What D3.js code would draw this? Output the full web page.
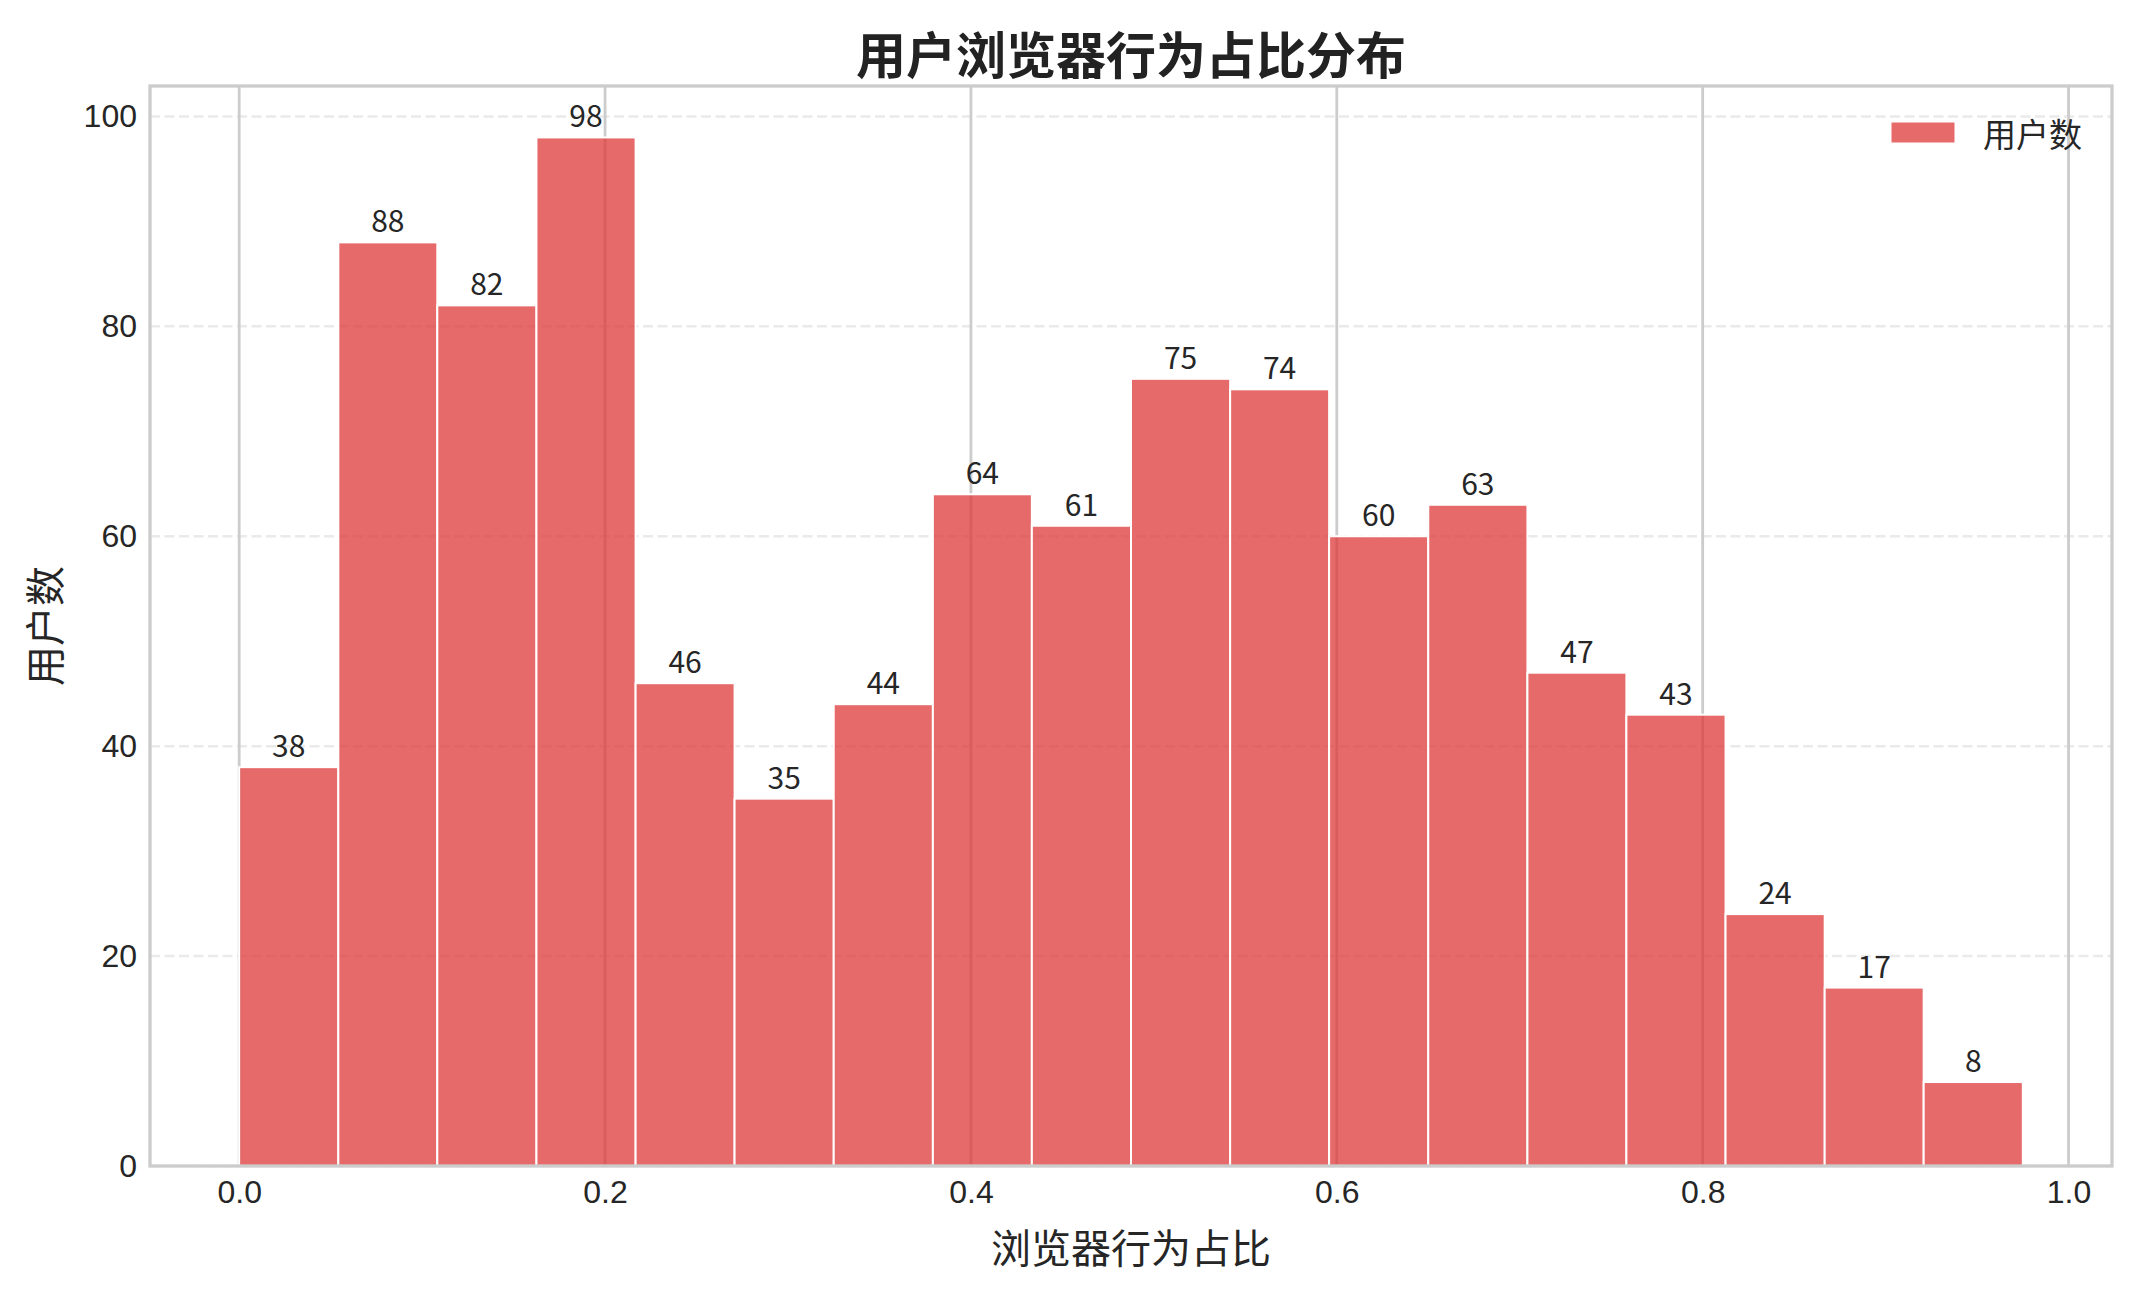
<!DOCTYPE html>
<html lang="zh">
  <head>
    <meta charset="UTF-8" />
    <title>用户浏览器行为占比分布</title>
    <style>
      body {
        margin: 0;
        background-color: #fff;
      }

      svg {
        display: block;
        font-family: "Noto Sans CJK SC", "Noto Sans", sans-serif;
      }

      .axis text {
        fill: #262626;
        font-size: 32px;
      }

      .bar {
        fill: #de3838;
        fill-opacity: 0.75;
        stroke: #fff;
        stroke-width: 2px;
      }
    </style>
  </head>
  <body>
    <svg id="chart"></svg>

    <script src="https://d3js.org/d3.v7.min.js"></script>
    <script>
      const width = 2135;
      const height = 1294;

      // histogram bins (edges) and counts
      const binEdges = [
        0, 0.0542, 0.1083, 0.1625, 0.2167, 0.2708, 0.325, 0.3792, 0.4333,
        0.4875, 0.5417, 0.5958, 0.65, 0.7042, 0.7583, 0.8125, 0.8667, 0.9208,
        0.975,
      ];
      const counts = [
        38, 88, 82, 98, 46, 35, 44, 64, 61, 75, 74, 60, 63, 47, 43, 24, 17, 8,
      ];
      const xTicks = [0, 0.2, 0.4, 0.6, 0.8, 1.0];
      const yTicks = [0, 20, 40, 60, 80, 100];

      const titleText = "用户浏览器行为占比分布";
      const xLabel = "浏览器行为占比";
      const yLabel = "用户数";
      const legendLabel = "用户数";

      const margin = { top: 86, right: 23, bottom: 128, left: 150 };
      const plotW = width - margin.left - margin.right;
      const plotH = height - margin.top - margin.bottom;

      const bins = counts.map((c, i) => ({
        x0: binEdges[i],
        x1: binEdges[i + 1],
        count: c,
      }));

      const xMin = binEdges[0];
      const xMax = binEdges[binEdges.length - 1];
      const pad = (xMax - xMin) * 0.05;

      const x = d3
        .scaleLinear()
        .domain([xMin - pad, xMax + pad])
        .range([0, plotW]);
      const y = d3
        .scaleLinear()
        .domain([0, d3.max(counts) * 1.05])
        .range([plotH, 0]);

      const svg = d3
        .select("#chart")
        .attr("width", width)
        .attr("height", height)
        .attr("viewBox", `0 0 ${width} ${height}`);

      const g = svg
        .append("g")
        .attr("transform", `translate(${margin.left},${margin.top})`);

      // grid: solid vertical, dashed horizontal
      g.append("g")
        .selectAll("line")
        .data(yTicks)
        .join("line")
        .attr("x1", 0)
        .attr("x2", plotW)
        .attr("y1", (d) => y(d))
        .attr("y2", (d) => y(d))
        .attr("stroke", "#eaeaea")
        .attr("stroke-width", 2.5)
        .attr("stroke-dasharray", "10,4.5");

      g.append("g")
        .selectAll("line")
        .data(xTicks)
        .join("line")
        .attr("x1", (d) => x(d))
        .attr("x2", (d) => x(d))
        .attr("y1", 0)
        .attr("y2", plotH)
        .attr("stroke", "#cccccc")
        .attr("stroke-width", 2.8);

      g.append("g")
        .selectAll("rect")
        .data(bins)
        .join("rect")
        .attr("class", "bar")
        .attr("x", (d) => x(d.x0))
        .attr("y", (d) => y(d.count))
        .attr("width", (d) => x(d.x1) - x(d.x0))
        .attr("height", (d) => plotH - y(d.count));

      g.append("g")
        .selectAll("text")
        .data(bins)
        .join("text")
        .attr("x", (d) => x((d.x0 + d.x1) / 2))
        .attr("y", (d) => y(d.count) - 10)
        .attr("text-anchor", "middle")
        .attr("fill", "#262626")
        .style("font-size", "30px")
        .text((d) => d.count);

      // spines
      g.append("rect")
        .attr("width", plotW)
        .attr("height", plotH)
        .attr("fill", "none")
        .attr("stroke", "#cccccc")
        .attr("stroke-width", 3.3);

      const xAxis = g
        .append("g")
        .attr("class", "axis")
        .attr("transform", `translate(0,${plotH})`)
        .call(
          d3
            .axisBottom(x)
            .tickValues(xTicks)
            .tickFormat(d3.format(".1f"))
            .tickSize(0)
            .tickPadding(14)
        );
      xAxis.select(".domain").remove();

      const yAxis = g
        .append("g")
        .attr("class", "axis")
        .call(d3.axisLeft(y).tickValues(yTicks).tickSize(0).tickPadding(13));
      yAxis.select(".domain").remove();

      svg
        .append("text")
        .attr("x", margin.left + plotW / 2)
        .attr("y", 52)
        .attr("text-anchor", "middle")
        .attr("dominant-baseline", "central")
        .attr("fill", "#222")
        .style("font-size", "50px")
        .style("font-weight", "bold")
        .text(titleText);

      svg
        .append("text")
        .attr("x", margin.left + plotW / 2)
        .attr("y", 1246)
        .attr("text-anchor", "middle")
        .attr("dominant-baseline", "central")
        .attr("fill", "#262626")
        .style("font-size", "40px")
        .text(xLabel);

      svg
        .append("text")
        .attr(
          "transform",
          `translate(43,${margin.top + plotH / 2}) rotate(-90)`
        )
        .attr("text-anchor", "middle")
        .attr("dominant-baseline", "central")
        .attr("fill", "#262626")
        .style("font-size", "40px")
        .text(yLabel);

      // legend
      const legend = svg
        .append("g")
        .attr("transform", `translate(1891,122)`);
      legend
        .append("rect")
        .attr("class", "bar")
        .attr("width", 64)
        .attr("height", 21)
        .style("stroke-width", "1px");
      legend
        .append("text")
        .attr("x", 92)
        .attr("y", 11)
        .attr("dominant-baseline", "central")
        .attr("fill", "#262626")
        .style("font-size", "33px")
        .text(legendLabel);
    </script>
  </body>
</html>
